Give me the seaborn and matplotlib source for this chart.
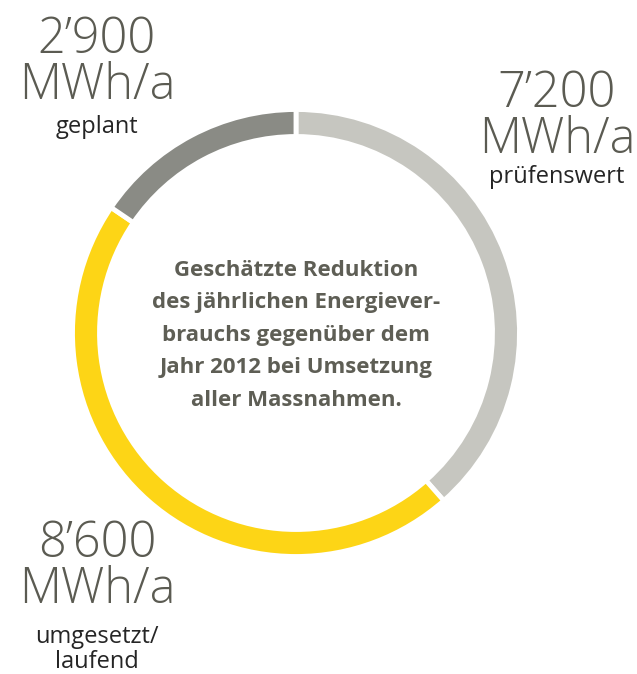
import matplotlib
matplotlib.use("Agg")
import matplotlib.pyplot as plt
import seaborn as sns

# ---- data ----
categories = ["prüfenswert", "umgesetzt/\nlaufend", "geplant"]
values = [7200, 8600, 2900]
value_labels = ["7’200", "8’600", "2’900"]
unit = "MWh/a"
colors = ["#C6C6C0", "#FDD516", "#8A8B85"]
center_text = ("Geschätzte Reduktion\ndes jährlichen Energiever-\nbrauchs gegenüber dem\n"
               "Jahr 2012 bei Umsetzung\naller Massnahmen.")

sns.set_theme(style="white")
plt.rcParams['font.family'] = ['Open Sans', 'DejaVu Sans']

W, H = 637, 674
fig = plt.figure(figsize=(W / 100, H / 100), dpi=100)
ax = fig.add_axes([0, 0, 1, 1])

cx, cy = 296, H - 333
R = 223.5
ax.pie(values, colors=colors, startangle=90, counterclock=False,
       center=(cx, cy), radius=R,
       wedgeprops=dict(width=27, edgecolor="white", linewidth=3.5))
ax.set_xlim(0, W)
ax.set_ylim(0, H)
ax.set_aspect("auto")
ax.axis("off")

num_col = "#5B5B52"
lab_col = "#252525"

def block(x, b_num, b_unit, b_labels, val, cat):
    ax.text(x, H - b_num, val, ha="center", va="baseline", fontsize=35,
            color=num_col, fontweight="light")
    ax.text(x, H - b_unit, unit, ha="center", va="baseline", fontsize=35,
            color=num_col, fontweight="light")
    for ln, b in zip(cat.split("\n"), b_labels):
        ax.text(x, H - b, ln, ha="center", va="baseline",
                fontsize=17, color=lab_col)

block(97, 53, 99, [133], value_labels[2], categories[2])
block(557, 107, 153, [183], value_labels[0], categories[0])
block(97, 557, 603, [643, 668], value_labels[1], categories[1])

for i, ln in enumerate(center_text.split("\n")):
    ax.text(cx, H - 270 - i * 32.5, ln, ha="center", va="center",
            fontsize=16, fontweight="bold", color="#5E5E55")

fig.savefig("out.png", dpi=100)
